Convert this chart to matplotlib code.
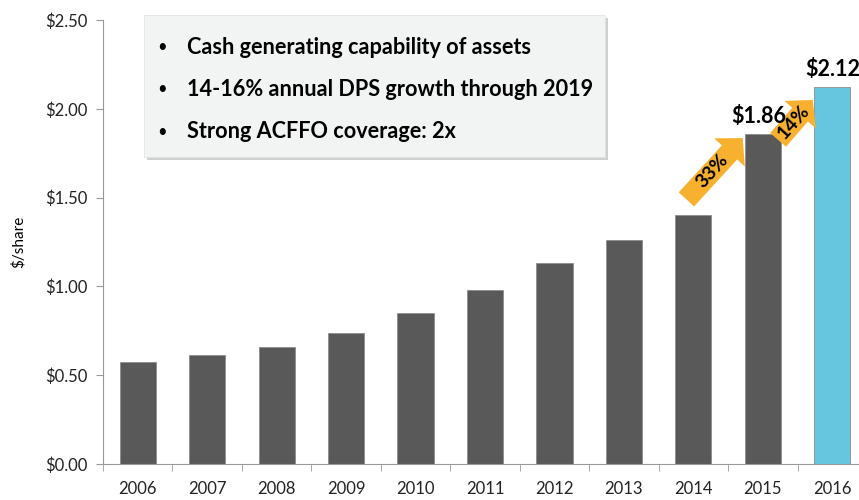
import matplotlib.pyplot as plt
from matplotlib.patches import Rectangle
from matplotlib.ticker import FixedLocator, FuncFormatter

plt.rcParams['font.family'] = ['Lato', 'DejaVu Sans']

years = ["2006", "2007", "2008", "2009", "2010", "2011", "2012", "2013", "2014", "2015", "2016"]
dps = [0.575, 0.615, 0.66, 0.74, 0.85, 0.98, 1.13, 1.26, 1.40, 1.86, 2.12]
bar_colors = ["#595959"] * 10 + ["#66C6E0"]
value_labels = {9: "$1.86", 10: "$2.12"}
bullets = ["Cash generating capability of assets",
           "14-16% annual DPS growth through 2019",
           "Strong ACFFO coverage: 2x"]
# growth arrows: (tail x, tail y, tip x, tip y, label)
growth = [(7.90, 1.49, 8.71, 1.835, "33%"),
          (9.22, 1.825, 9.72, 2.05, "14%")]

fig = plt.figure(figsize=(8.59, 5.0), dpi=100)
ax = fig.add_axes([103 / 859, 36 / 500, 764 / 859, 444 / 500])

x = list(range(len(years)))
ax.bar(x, dps, width=0.52, color=bar_colors, edgecolor="#8c8c8c", linewidth=0.6, zorder=2)

ax.set_xlim(-0.5, len(years) - 0.5)
ax.set_ylim(0, 2.5)
ax.set_yticks([0, 0.5, 1.0, 1.5, 2.0, 2.5])
ax.yaxis.set_major_formatter(FuncFormatter(lambda v, p: f"${v:.2f}"))
ax.set_xticks(x)
ax.set_xticklabels(years)
ax.xaxis.set_minor_locator(FixedLocator([i - 0.5 for i in range(len(years) + 1)]))
ax.tick_params(axis="x", which="major", length=0, pad=12, labelsize=12, labelcolor="#222222")
ax.tick_params(axis="x", which="minor", length=5, color="#999999", direction="out")
ax.tick_params(axis="y", length=5, color="#999999", labelsize=12, labelcolor="#222222", pad=6)
for s in ["top", "right"]:
    ax.spines[s].set_visible(False)
for s in ["left", "bottom"]:
    ax.spines[s].set_color("#999999")
ax.set_ylabel("$/share", fontsize=11, labelpad=14)

for tx, ty, hx, hy, lab in growth:
    ax.annotate("", xy=(hx, hy), xytext=(tx, ty),
                arrowprops=dict(arrowstyle="simple,head_length=0.7,head_width=1.5,tail_width=0.75",
                                fc="#F7B12E", ec="none", shrinkA=0, shrinkB=0, mutation_scale=20),
                zorder=3)
    ax.text((tx + hx) / 2 - 0.03, (ty + hy) / 2 - 0.01, lab, rotation=48, ha="center", va="center",
            fontsize=14, fontweight="bold", zorder=4)

for i, lab in value_labels.items():
    ax.text(i - 0.06 if i == 9 else i, dps[i] + 0.04, lab, ha="center", va="bottom",
            fontsize=15.5, fontweight="bold", zorder=5)

# text box with shadow
fig.add_artist(Rectangle((147 / 859, 1 - 160 / 500), 461 / 859, 142 / 500,
                         transform=fig.transFigure, fc="#cfcfcf", ec="none", zorder=5))
fig.add_artist(Rectangle((144 / 859, 1 - 157 / 500), 461 / 859, 142 / 500,
                         transform=fig.transFigure, fc="#F2F3F3", ec="#e0e0e0", lw=0.5, zorder=6))
for k, line in enumerate(bullets):
    yy = 1 - (47 + 42.5 * k) / 500
    fig.text(162 / 859, yy, "\u2022", ha="center", va="center", fontsize=12, zorder=7)
    fig.text(187 / 859, yy, line, ha="left", va="center", fontsize=15.6, fontweight="bold", zorder=7)

fig.savefig("out.png", dpi=100)
